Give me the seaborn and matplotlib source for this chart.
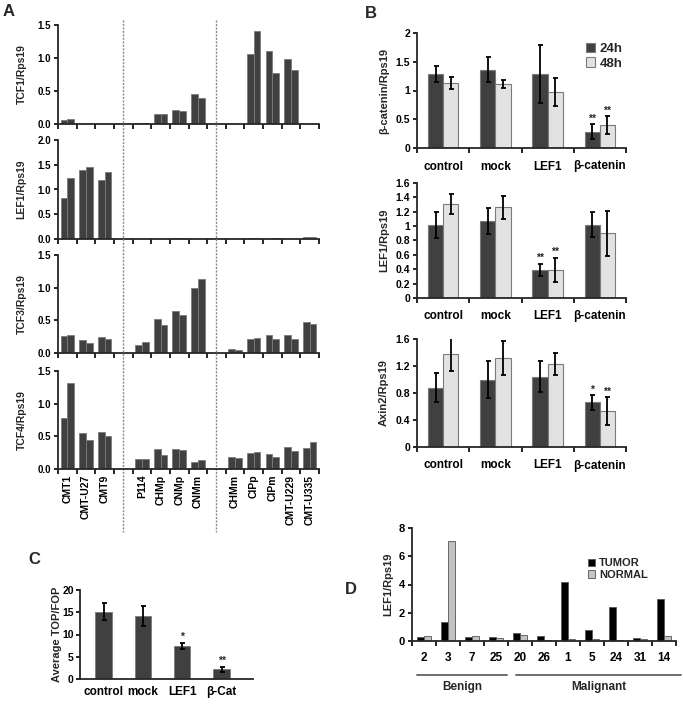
import matplotlib.pyplot as plt
import numpy as np
import pandas as pd
import seaborn as sns
from matplotlib.transforms import blended_transform_factory

# ---------------- data ----------------
# Panel A: qPCR of TCF/LEF factors in cell lines (two replicates per line)
cell_lines = ["CMT1", "CMT-U27", "CMT9", "P114", "CHMp", "CNMp", "CNMm",
              "CHMm", "CIPp", "CIPm", "CMT-U229", "CMT-U335"]
line_order = ["CMT1", "CMT-U27", "CMT9", "gap1", "P114", "CHMp", "CNMp", "CNMm",
              "gap2", "CHMm", "CIPp", "CIPm", "CMT-U229", "CMT-U335"]

tcf1_rep1 = [0.06, 0.0, 0.0, 0.01, 0.15, 0.21, 0.46, 0.0, 1.06, 1.10, 0.98, 0.0]
tcf1_rep2 = [0.07, 0.0, 0.0, 0.01, 0.15, 0.19, 0.40, 0.0, 1.41, 0.78, 0.82, 0.0]
lef1_rep1 = [0.83, 1.40, 1.20, 0.0, 0.01, 0.015, 0.0, 0.0, 0.02, 0.01, 0.0, 0.05]
lef1_rep2 = [1.24, 1.45, 1.36, 0.0, 0.005, 0.025, 0.0, 0.0, 0.03, 0.03, 0.0, 0.05]
tcf3_rep1 = [0.26, 0.20, 0.25, 0.12, 0.52, 0.65, 0.99, 0.06, 0.22, 0.28, 0.28, 0.48]
tcf3_rep2 = [0.28, 0.155, 0.21, 0.17, 0.43, 0.58, 1.14, 0.04, 0.23, 0.22, 0.21, 0.44]
tcf4_rep1 = [0.78, 0.55, 0.56, 0.16, 0.30, 0.30, 0.11, 0.18, 0.24, 0.23, 0.33, 0.32]
tcf4_rep2 = [1.32, 0.45, 0.50, 0.16, 0.22, 0.29, 0.14, 0.17, 0.26, 0.19, 0.28, 0.42]

# Panel B: knockdown, 24h / 48h, mean and error
conditions = ["control", "mock", "LEF1", "β-catenin"]
bcat_24h = [1.29, 1.36, 1.29, 0.28]
bcat_24h_err = [0.14, 0.22, 0.50, 0.13]
bcat_48h = [1.13, 1.11, 0.97, 0.40]
bcat_48h_err = [0.11, 0.07, 0.24, 0.15]
bcat_stars_24h = ["", "", "", "**"]
bcat_stars_48h = ["", "", "", "**"]

lef1_24h = [1.02, 1.07, 0.39, 1.02]
lef1_24h_err = [0.18, 0.18, 0.085, 0.17]
lef1_48h = [1.31, 1.26, 0.39, 0.90]
lef1_48h_err = [0.14, 0.16, 0.17, 0.31]
lef1_stars_24h = ["", "", "**", ""]
lef1_stars_48h = ["", "", "**", ""]

axin2_24h = [0.88, 1.00, 1.04, 0.66]
axin2_24h_err = [0.21, 0.28, 0.23, 0.11]
axin2_48h = [1.38, 1.32, 1.23, 0.53]
axin2_48h_err = [0.26, 0.25, 0.17, 0.21]
axin2_stars_24h = ["", "", "", "*"]
axin2_stars_48h = ["", "", "", "**"]

# Panel C: TOP/FOP reporter
reporters = ["control", "mock", "LEF1", "β-Cat"]
topfop = [15.1, 14.2, 7.5, 2.2]
topfop_err = [1.9, 2.2, 0.7, 0.55]
topfop_stars = ["", "", "*", "**"]

# Panel D: tumours vs normal tissue
cases = ["2", "3", "7", "25", "20", "26", "1", "5", "24", "31", "14"]
tumor = [0.28, 1.32, 0.28, 0.28, 0.54, 0.38, 4.19, 0.78, 2.40, 0.24, 2.96]
normal = [0.38, 7.10, 0.38, 0.24, 0.45, 0.07, 0.12, 0.12, 0.05, 0.16, 0.35]

# ---------------- style ----------------
sns.set_theme(style="ticks")
plt.rcParams["font.family"] = ["Liberation Sans", "DejaVu Sans"]
plt.rcParams["font.weight"] = "bold"
plt.rcParams["axes.labelweight"] = "bold"
plt.rcParams["axes.linewidth"] = 1.3
plt.rcParams["xtick.major.width"] = 1.2
plt.rcParams["ytick.major.width"] = 1.2
plt.rcParams["xtick.minor.width"] = 1.2

DARK = "#404040"
LIGHT = "#e2e2e2"
W, H = 683, 705

fig = plt.figure(figsize=(W / 100, H / 100), dpi=100)


def px_axes(x0, x1, top, bottom):
    return fig.add_axes([x0 / W, 1 - bottom / H, (x1 - x0) / W, (bottom - top) / H])


def style_axes(ax, fs=7.5):
    sns.despine(ax=ax)
    ax.tick_params(axis="y", length=3, pad=2, labelsize=fs, colors="black")
    ax.tick_params(axis="x", which="major", length=0, colors="black")
    ax.set_xlabel("")
    for t in ax.get_xticklabels() + ax.get_yticklabels():
        t.set_fontweight("bold")


def boundary_ticks(ax, n):
    ax.set_xticks(np.arange(-0.5, n, 1), minor=True)
    ax.tick_params(axis="x", which="minor", length=3.5, direction="out", color="black")


# ---------------- panel A ----------------
genes = [("TCF1/Rps19", tcf1_rep1, tcf1_rep2, 1.5, 25, 124),
         ("LEF1/Rps19", lef1_rep1, lef1_rep2, 2.0, 140, 239),
         ("TCF3/Rps19", tcf3_rep1, tcf3_rep2, 1.5, 255, 353),
         ("TCF4/Rps19", tcf4_rep1, tcf4_rep2, 1.5, 371, 469)]
a_axes = []
for label, rep1, rep2, ymax, top, bottom in genes:
    ax = px_axes(58, 319, top, bottom)
    df = pd.DataFrame({"line": cell_lines * 2,
                       "rep": ["r1"] * len(cell_lines) + ["r2"] * len(cell_lines),
                       "value": rep1 + rep2})
    sns.barplot(data=df, x="line", y="value", hue="rep", order=line_order,
                palette=[DARK, DARK], width=0.72, errorbar=None, legend=False,
                edgecolor="#7a7a7a", linewidth=0.6, ax=ax)
    ax.set_xlim(-0.5, len(line_order) - 0.5)
    ax.set_ylim(0, ymax)
    ax.set_yticks(np.arange(0, ymax + 0.01, 0.5))
    ax.set_yticklabels([f"{t:.1f}" for t in np.arange(0, ymax + 0.01, 0.5)])
    ax.set_ylabel(label, fontsize=7.5)
    ax.yaxis.set_label_coords(-0.12, 0.5)
    boundary_ticks(ax, len(line_order))
    ax.set_xticks(range(len(line_order)))
    ax.set_xticklabels([])
    style_axes(ax, fs=7)
    a_axes.append(ax)

ax_bot = a_axes[-1]
ax_bot.set_xticklabels(["" if n.startswith("gap") else n for n in line_order],
                       rotation=90, fontsize=7.5, fontweight="bold")
ax_bot.tick_params(axis="x", which="major", pad=4)
trans = blended_transform_factory(ax_bot.transData, fig.transFigure)
for gx in [line_order.index("gap1"), line_order.index("gap2")]:
    ax_bot.plot([gx, gx], [1 - 20 / H, 1 - 532 / H], transform=trans, clip_on=False,
                color="#8a8a8a", lw=1.0, ls=(0, (1.5, 1)))

# ---------------- panel B ----------------
b_sets = [("β-catenin/Rps19", bcat_24h, bcat_24h_err, bcat_48h, bcat_48h_err,
           bcat_stars_24h, bcat_stars_48h, 2.0, 0.5, 33, 148),
          ("LEF1/Rps19", lef1_24h, lef1_24h_err, lef1_48h, lef1_48h_err,
           lef1_stars_24h, lef1_stars_48h, 1.6, 0.2, 183, 298),
          ("Axin2/Rps19", axin2_24h, axin2_24h_err, axin2_48h, axin2_48h_err,
           axin2_stars_24h, axin2_stars_48h, 1.6, 0.4, 339, 447)]
for i, (label, m24, e24, m48, e48, s24, s48, ymax, step, top, bottom) in enumerate(b_sets):
    ax = px_axes(417, 626, top, bottom)
    df = pd.DataFrame({"cond": conditions * 2,
                       "time": ["24h"] * 4 + ["48h"] * 4,
                       "value": m24 + m48})
    sns.barplot(data=df, x="cond", y="value", hue="time", order=conditions,
                palette=[DARK, LIGHT], width=0.58, errorbar=None,
                edgecolor="#7a7a7a", linewidth=0.8, legend=(i == 0), ax=ax)
    for cont, errs, stars in zip(ax.containers, [e24, e48], [s24, s48]):
        for bar, err, star in zip(cont, errs, stars):
            xc = bar.get_x() + bar.get_width() / 2
            h = bar.get_height()
            ax.errorbar(xc, h, yerr=err, fmt="none", ecolor="black",
                        elinewidth=1.3, capsize=1.8, capthick=1.3)
            if star:
                ax.text(xc, h + err + ymax * 0.005, star, ha="center", va="bottom",
                        fontsize=7.5)
    ax.set_xlim(-0.5, 3.5)
    ax.set_ylim(0, ymax)
    ticks = np.arange(0, ymax + 1e-6, step)
    ax.set_yticks(ticks)
    ax.set_yticklabels([f"{t:g}" for t in ticks])
    ax.set_ylabel(label, fontsize=8)
    ax.yaxis.set_label_coords(-0.135, 0.5)
    boundary_ticks(ax, 4)
    ax.tick_params(axis="x", which="major", labelsize=8.5, pad=9)
    style_axes(ax, fs=7.5)
    if i == 0:
        ax.legend(loc="upper right", bbox_to_anchor=(1.02, 0.98), frameon=False,
                  handlelength=0.7, handleheight=0.7, handletextpad=0.3,
                  labelspacing=0.15, fontsize=9.5, borderaxespad=0.2)

# ---------------- panel C ----------------
ax = px_axes(80, 253, 590, 679)
df = pd.DataFrame({"rep": reporters, "value": topfop})
sns.barplot(data=df, x="rep", y="value", order=reporters, color=DARK, width=0.42,
            errorbar=None, edgecolor="#7a7a7a", linewidth=0.6, ax=ax)
for bar, err, star in zip(ax.containers[0], topfop_err, topfop_stars):
    xc = bar.get_x() + bar.get_width() / 2
    h = bar.get_height()
    ax.errorbar(xc, h, yerr=err, fmt="none", ecolor="black",
                elinewidth=1.3, capsize=1.8, capthick=1.3)
    if star:
        ax.text(xc, h + err + 0.2, star, ha="center", va="bottom", fontsize=7.5)
ax.set_xlim(-0.6, 3.8)
ax.set_ylim(0, 20)
ax.set_yticks([0, 5, 10, 15, 20])
ax.set_ylabel("Average TOP/FOP", fontsize=8)
ax.yaxis.set_label_coords(-0.105, 0.5)
ax.tick_params(axis="x", which="major", labelsize=8.5, pad=5)
style_axes(ax, fs=7.5)
ax.tick_params(axis="y", pad=1.5)

# ---------------- panel D ----------------
ax = px_axes(412, 676, 528, 641)
df = pd.DataFrame({"case": cases * 2,
                   "tissue": ["TUMOR"] * len(cases) + ["NORMAL"] * len(cases),
                   "value": tumor + normal})
sns.barplot(data=df, x="case", y="value", hue="tissue", order=cases,
            palette=["#000000", "#c2c2c2"], width=0.6, errorbar=None,
            edgecolor="#555555", linewidth=0.6, ax=ax)
ax.set_xlim(-0.5, len(cases) - 0.5)
ax.set_ylim(0, 8)
ax.set_yticks([0, 2, 4, 6, 8])
ax.set_ylabel("LEF1/Rps19", fontsize=8)
ax.yaxis.set_label_coords(-0.07, 0.5)
boundary_ticks(ax, len(cases))
ax.tick_params(axis="x", which="major", labelsize=8.5, pad=8)
style_axes(ax, fs=8)
ax.legend(loc="upper right", bbox_to_anchor=(0.93, 0.82), frameon=False,
          handlelength=0.7, handleheight=0.7, handletextpad=0.3,
          labelspacing=0.15, fontsize=8)
tr = blended_transform_factory(ax.transData, ax.transAxes)
for x0, x1, name in [(-0.3, 3.46, "Benign"), (3.83, 10.7, "Malignant")]:
    ax.plot([x0, x1], [-0.30, -0.30], transform=tr, clip_on=False,
            color="#606060", lw=1.3)
    ax.text((x0 + x1) / 2, -0.35, name, transform=tr, ha="center", va="top",
            fontsize=8.5)

# ---------------- panel letters ----------------
for letter, x, y in [("A", 9, 12), ("B", 371, 14), ("C", 34, 560), ("D", 351, 590)]:
    fig.text(x / W, 1 - y / H, letter, fontsize=12, fontweight="bold",
             ha="center", va="center")

fig.savefig("out.png", dpi=100)
